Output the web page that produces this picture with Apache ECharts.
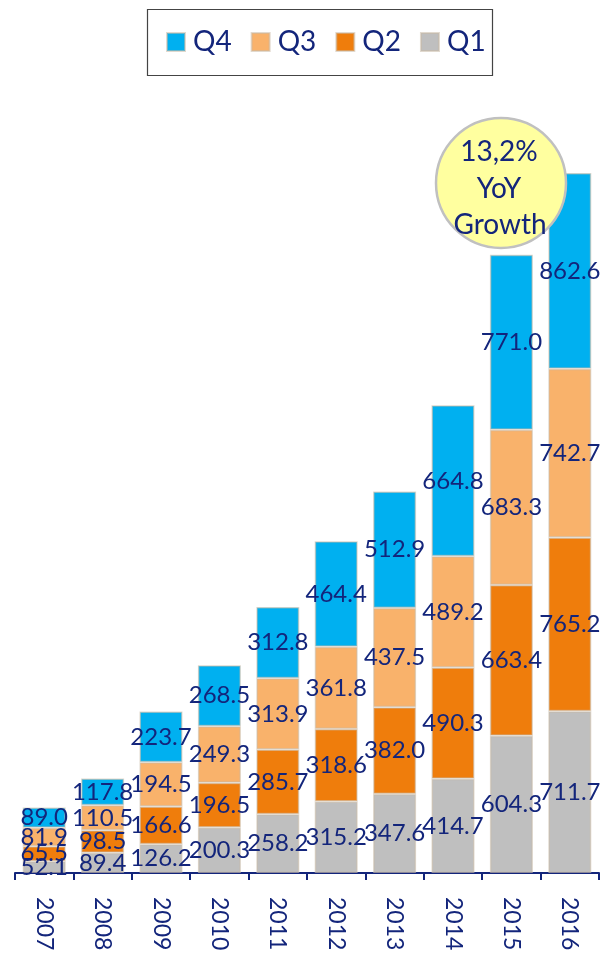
<!DOCTYPE html>
<html>
<head>
<meta charset="utf-8">
<script src="https://cdn.jsdelivr.net/npm/echarts@6/dist/echarts.min.js"></script>
<style>html,body{margin:0;padding:0;background:#fff}#c{width:614px;height:957px}</style>
</head>
<body>
<div id="c"></div>
<script>
const years = ['2007','2008','2009','2010','2011','2012','2013','2014','2015','2016'];
const q1 = [52.1, 89.4, 126.2, 200.3, 258.2, 315.2, 347.6, 414.7, 604.3, 711.7];
const q2 = [65.5, 98.5, 166.6, 196.5, 285.7, 318.6, 382.0, 490.3, 663.4, 765.2];
const q3 = [81.9, 110.5, 194.5, 249.3, 313.9, 361.8, 437.5, 489.2, 683.3, 742.7];
const q4 = [89.0, 117.8, 223.7, 268.5, 312.8, 464.4, 512.9, 664.8, 771.0, 862.6];
const seriesNames = ['Q1','Q2','Q3','Q4'];
const seriesData = [q1, q2, q3, q4];
const colors = ['#bfbfbf', '#ef7d0c', '#f9b26b', '#00b0f0'];
const bubbleLines = ['13,2%', 'YoY', 'Growth'];

const navy = '#13257b';
const font = 'Lato, "Open Sans", sans-serif';

const chart = echarts.init(document.getElementById('c'), null, {renderer: 'canvas'});
const series = seriesNames.map((n, i) => ({
  name: n,
  type: 'bar',
  stack: 'total',
  barWidth: 43,
  data: seriesData[i],
  itemStyle: {color: colors[i], borderColor: 'rgba(200,185,165,0.55)', borderWidth: 1.5},
  label: {
    show: true,
    position: 'inside',
    color: navy,
    fontFamily: font,
    fontSize: 24,
    formatter: p => Number(p.value).toFixed(1)
  },
  emphasis: {disabled: true}
}));

chart.setOption({
  animation: false,
  backgroundColor: '#fff',
  grid: {left: 15, right: 15, top: 78, bottom: 84, containLabel: false},
  legend: {
    data: ['Q4','Q3','Q2','Q1'],
    left: 161,
    top: 23,
    itemWidth: 18,
    itemHeight: 18,
    itemGap: 19,
    icon: 'rect',
    textStyle: {color: navy, fontSize: 28, fontFamily: font, padding: [0,0,0,3]},
    selectedMode: false
  },
  xAxis: {
    type: 'category',
    data: years,
    axisLine: {lineStyle: {color: navy, width: 2}},
    axisTick: {show: true, length: 7, lineStyle: {color: navy, width: 2}},
    axisLabel: {rotate: -90, color: navy, fontSize: 23, fontFamily: font, margin: 24}
  },
  yAxis: {
    type: 'value',
    min: 0,
    max: 3500,
    show: false,
    splitLine: {show: false}
  },
  series: series,
  graphic: [
    {type: 'rect', left: 145, top: 7, shape: {width: 345, height: 66}, style: {fill: 'none', stroke: '#444', lineWidth: 1.2}, z: 10},
    {type: 'circle', shape: {cx: 501, cy: 183, r: 65}, style: {fill: '#ffff9f', stroke: '#c0c0c0', lineWidth: 2.5}, z: 100},
    {type: 'text', x: 499, y: 152, style: {text: bubbleLines[0], fill: navy, font: '28px ' + font, align: 'center', verticalAlign: 'middle'}, z: 101},
    {type: 'text', x: 499, y: 189, style: {text: bubbleLines[1], fill: navy, font: '28px ' + font, align: 'center', verticalAlign: 'middle'}, z: 101},
    {type: 'text', x: 500, y: 225, style: {text: bubbleLines[2], fill: navy, font: '28px ' + font, align: 'center', verticalAlign: 'middle'}, z: 101}
  ]
});
</script>
</body>
</html>
